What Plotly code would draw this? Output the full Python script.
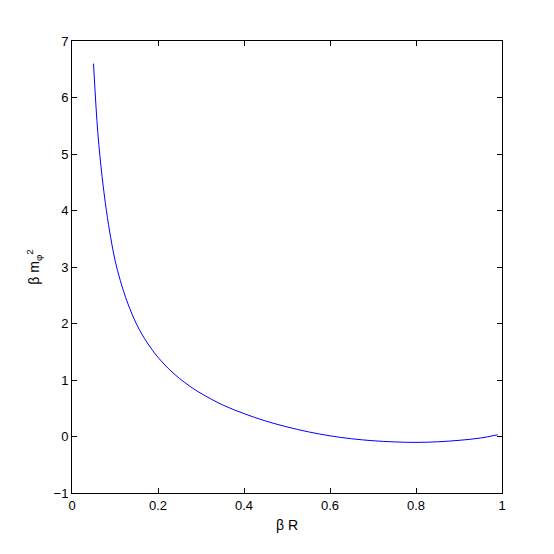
import plotly.graph_objects as go

beta_R = [0.05, 0.06, 0.07, 0.08, 0.09, 0.10, 0.1125, 0.125, 0.1375, 0.15, 0.1625, 0.175, 0.1875,
          0.20, 0.225, 0.25, 0.275, 0.30, 0.35, 0.40, 0.45, 0.50, 0.55, 0.60, 0.65, 0.70,
          0.75, 0.80, 0.85, 0.90, 0.95, 0.99]
beta_m2 = [6.6, 5.38, 4.6, 4.0, 3.52, 3.12, 2.755, 2.455, 2.205, 1.99, 1.812, 1.657, 1.522,
           1.402, 1.197, 1.027, 0.885, 0.763, 0.56, 0.405, 0.275, 0.17, 0.082, 0.012, -0.04, -0.075,
           -0.096, -0.104, -0.094, -0.068, -0.027, 0.03]

fig = go.Figure()
fig.add_trace(go.Scatter(x=beta_R, y=beta_m2, mode="lines",
                         line=dict(color="#0000ff", width=1, shape="spline", smoothing=1.0),
                         showlegend=False))

font = dict(family="Liberation Sans, Arial", size=13, color="black")
axis_common = dict(showline=True, linecolor="black", linewidth=1, mirror="ticks",
                   ticks="inside", ticklen=5, tickcolor="black", showgrid=False,
                   zeroline=False, tickfont=font)

fig.update_xaxes(range=[0, 1], tickvals=[0, 0.2, 0.4, 0.6, 0.8, 1],
                 ticktext=["0", "0.2", "0.4", "0.6", "0.8", "1"],
                 title=dict(text="β R", font=dict(family="Liberation Sans, Arial", size=14, color="black"), standoff=8),
                 **axis_common)
fig.update_yaxes(range=[-1, 7], tickvals=list(range(-1, 8)),
                 ticktext=["−1", "0", "1", "2", "3", "4", "5", "6", "7"],
                 title=dict(text="β m<sub>φ</sub><sup>2</sup>", font=dict(family="Liberation Sans, Arial", size=14, color="black"), standoff=10),
                 **axis_common)

fig.update_layout(width=554, height=554, margin=dict(l=64, r=60, t=33, b=69, autoexpand=False),
                  plot_bgcolor="white", paper_bgcolor="white")
fig.write_html("out.html")
